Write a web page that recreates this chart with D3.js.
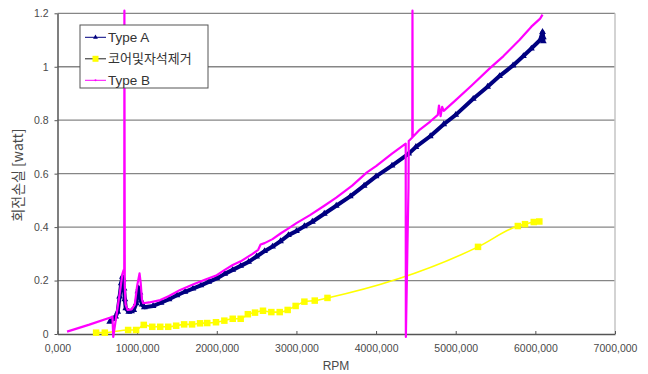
<!DOCTYPE html>
<html>
<head>
<meta charset="utf-8">
<script src="https://cdn.jsdelivr.net/npm/d3@7"></script>
<style>
  html, body { margin: 0; padding: 0; background: #fff; }
  svg { display: block; }
  text { font-family: "Liberation Sans", Arial, "Noto Sans CJK KR", sans-serif; }
  .kr { font-family: "Noto Sans CJK KR", "Liberation Sans", sans-serif; }
</style>
</head>
<body>
<svg id="chart" width="648" height="374"></svg>
<script>
// Rotation loss vs. speed — three measured series.
const seriesNames = ["Type A", "코어및자석제거", "Type B"];

// Type A (rpm, watt)
const typeARpm = [656000, 700000, 730000, 756000, 780000, 800000, 815000, 825000, 835000, 845000, 857000, 895000, 930000, 957000, 990000, 1010000, 1020000, 1035000, 1050000, 1062000, 1090000, 1200000, 1300000, 1400000, 1500000, 1600000, 1700000, 1800000, 1900000, 2000000, 2100000, 2200000, 2300000, 2400000, 2500000, 2600000, 2700000, 2800000, 2900000, 3000000, 3100000, 3200000, 3350000, 3500000, 3676000, 3850000, 4000000, 4200000, 4410000, 4500000, 4680000, 4850000, 5000000, 5220000, 5400000, 5550000, 5720000, 5850000, 5950000, 6060000, 6090000, 6100000, 6100000];
const typeAWatt = [0.046, 0.056, 0.065, 0.083, 0.14, 0.19, 0.214, 0.205, 0.17, 0.13, 0.096, 0.083, 0.085, 0.09, 0.115, 0.16, 0.171, 0.155, 0.125, 0.11, 0.1, 0.105, 0.117, 0.13, 0.145, 0.158, 0.17, 0.182, 0.195, 0.208, 0.225, 0.24, 0.255, 0.27, 0.29, 0.31, 0.327, 0.347, 0.37, 0.385, 0.403, 0.42, 0.45, 0.48, 0.515, 0.555, 0.59, 0.63, 0.675, 0.70, 0.74, 0.785, 0.82, 0.88, 0.925, 0.965, 1.005, 1.04, 1.068, 1.1, 1.13, 1.11, 1.095];

// 코어및자석제거 (rpm, watt)
const coreRpm = [485000, 594000, 887000, 987000, 1083000, 1190000, 1290000, 1390000, 1490000, 1590000, 1690000, 1790000, 1880000, 1990000, 2095000, 2200000, 2300000, 2390000, 2480000, 2580000, 2685000, 2790000, 2890000, 2990000, 3100000, 3230000, 3390000, 5280000, 5780000, 5870000, 5980000, 6050000];
const coreWatt = [0.005, 0.005, 0.015, 0.015, 0.034, 0.027, 0.027, 0.027, 0.031, 0.036, 0.036, 0.04, 0.041, 0.044, 0.05, 0.057, 0.057, 0.074, 0.08, 0.087, 0.082, 0.082, 0.09, 0.105, 0.121, 0.125, 0.135, 0.326, 0.404, 0.411, 0.419, 0.421];

// Type B (rpm, watt)
const typeBRpm = [120000, 400000, 665000, 690000, 700000, 760000, 790000, 815000, 830000, 838000, 840000, 845000, 855000, 880000, 930000, 970000, 1000000, 1030000, 1045000, 1060000, 1075000, 1150000, 1290000, 1400000, 1540000, 1700000, 1850000, 2000000, 2100000, 2200000, 2300000, 2450000, 2520000, 2550000, 2600000, 2700000, 2800000, 2920000, 3000000, 3170000, 3350000, 3500000, 3700000, 3885000, 4000000, 4200000, 4372000, 4374000, 4407000, 4410000, 4455000, 4457000, 4460000, 4550000, 4680000, 4775000, 4790000, 4810000, 4830000, 4850000, 5000000, 5200000, 5430000, 5600000, 5800000, 5950000, 6060000, 6090000];
const typeBWatt = [0.009, 0.035, 0.062, 0.065, -0.011, 0.11, 0.17, 0.225, 0.239, 0.235, 1.21, 0.18, 0.11, 0.09, 0.092, 0.11, 0.18, 0.227, 0.19, 0.13, 0.115, 0.118, 0.127, 0.142, 0.165, 0.185, 0.203, 0.22, 0.24, 0.258, 0.272, 0.3, 0.315, 0.335, 0.34, 0.355, 0.376, 0.399, 0.415, 0.445, 0.48, 0.51, 0.555, 0.605, 0.628, 0.675, 0.712, -0.011, 0.55, 0.722, 0.735, 1.21, 0.737, 0.765, 0.795, 0.82, 0.855, 0.815, 0.85, 0.835, 0.875, 0.93, 0.995, 1.04, 1.1, 1.15, 1.18, 1.195];

const xTickValues = [0, 1000000, 2000000, 3000000, 4000000, 5000000, 6000000, 7000000];
const xTickLabels = ["0,000", "1000,000", "2000,000", "3000,000", "4000,000", "5000,000", "6000,000", "7000,000"];
const yTickValues = [0, 0.2, 0.4, 0.6, 0.8, 1.0, 1.2];
const yTickLabels = ["0", "0.2", "0.4", "0.6", "0.8", "1", "1.2"];

const svg = d3.select("#chart");
const plotL = 57.5, plotR = 615, plotT = 13.3, plotB = 334;

const x = d3.scaleLinear().domain([0, 7000000]).range([plotL, plotR]);
const y = d3.scaleLinear().domain([0, 1.2]).range([plotB, plotT]);

// gridlines
svg.append("g").selectAll("line")
  .data(yTickValues.filter(v => v > 0))
  .join("line")
  .attr("x1", plotL).attr("x2", plotR)
  .attr("y1", d => y(d)).attr("y2", d => y(d))
  .attr("stroke", "#868686").attr("stroke-width", 1.3);

// right edge of plot area
svg.append("line")
  .attr("x1", plotR).attr("x2", plotR).attr("y1", plotT).attr("y2", plotB)
  .attr("stroke", "#c4c4c4").attr("stroke-width", 1.5);

// axes
const xAxis = d3.axisBottom(x).tickValues(xTickValues)
  .tickFormat((d, i) => xTickLabels[i]).tickSizeInner(-3).tickSizeOuter(0).tickPadding(11);
const gx = svg.append("g").attr("transform", `translate(0,${plotB})`).call(xAxis);
gx.select(".domain").attr("stroke", "#555").attr("stroke-width", 1.5);
gx.selectAll(".tick line").attr("stroke", "#555");
gx.selectAll("text").attr("fill", "#4a4a4a").style("font-size", "10.5px");

const yAxis = d3.axisLeft(y).tickValues(yTickValues)
  .tickFormat((d, i) => yTickLabels[i]).tickSizeInner(3).tickSizeOuter(0).tickPadding(6);
const gy = svg.append("g").attr("transform", `translate(${plotL},0)`).call(yAxis);
gy.select(".domain").attr("stroke", "#555").attr("stroke-width", 1.5);
gy.selectAll(".tick line").attr("stroke", "#555");
gy.selectAll("text").attr("fill", "#4a4a4a").style("font-size", "10.5px");

// axis titles
svg.append("text").attr("x", 336).attr("y", 370).attr("text-anchor", "middle")
  .attr("fill", "#4a4a4a").style("font-size", "12px").text("RPM");
svg.append("text").attr("class", "kr")
  .attr("transform", "translate(23,175) rotate(-90)").attr("text-anchor", "middle")
  .attr("fill", "#4a4a4a").style("font-size", "14px").text("회전손실 [watt]");

const zip = (xs, ys) => xs.map((v, i) => [v, ys[i]]);
const dataA = zip(typeARpm, typeAWatt);
const dataC = zip(coreRpm, coreWatt);
const dataB = zip(typeBRpm, typeBWatt);

const line = d3.line().x(d => x(d[0])).y(d => y(d[1]));
const smooth = d3.line().x(d => x(d[0])).y(d => y(d[1])).curve(d3.curveMonotoneX);

// 코어및자석제거
svg.append("path").datum(dataC).attr("d", smooth)
  .attr("fill", "none").attr("stroke", "#ffff00").attr("stroke-width", 1.6);
svg.append("g").selectAll("rect").data(dataC).join("rect")
  .attr("x", d => x(d[0]) - 3.25).attr("y", d => y(d[1]) - 3.25)
  .attr("width", 6.5).attr("height", 6.5).attr("fill", "#ffff00");

// Type A
svg.append("path").datum(dataA).attr("d", line)
  .attr("fill", "none").attr("stroke", "#000080").attr("stroke-width", 4)
  .attr("stroke-linejoin", "round");
const tri = d3.symbol().type(d3.symbolTriangle).size(20);
svg.append("g").selectAll("path").data(dataA).join("path")
  .attr("transform", d => `translate(${x(d[0])},${y(d[1])})`)
  .attr("d", tri).attr("fill", "#000080");

// Type B
svg.append("path").datum(dataB).attr("d", line)
  .attr("fill", "none").attr("stroke", "#ff00ff").attr("stroke-width", 2.2)
  .attr("stroke-linejoin", "round");

// legend
const lg = svg.append("g").attr("transform", "translate(80,25)");
lg.append("rect").attr("x", 0).attr("y", 0).attr("width", 128).attr("height", 63)
  .attr("fill", "#fff").attr("stroke", "#555").attr("stroke-width", 1);
const legendRows = [
  { name: seriesNames[0], color: "#000080", lineColor: "#000080", marker: "tri" },
  { name: seriesNames[1], color: "#ffff00", lineColor: "#222", marker: "sq" },
  { name: seriesNames[2], color: "#ff00ff", lineColor: "#ff00ff", marker: "dot" }
];
legendRows.forEach((r, i) => {
  const cy = 12.3 + i * 21.5;
  lg.append("line").attr("x1", 5).attr("x2", 26).attr("y1", cy).attr("y2", cy)
    .attr("stroke", r.lineColor).attr("stroke-width", 1);
  if (r.marker === "tri") {
    lg.append("path").attr("transform", `translate(15.5,${cy})`)
      .attr("d", d3.symbol().type(d3.symbolTriangle).size(10)).attr("fill", r.color);
  } else if (r.marker === "sq") {
    lg.append("rect").attr("x", 12.5).attr("y", cy - 3).attr("width", 6).attr("height", 6).attr("fill", r.color);
  } else {
    lg.append("circle").attr("cx", 15.5).attr("cy", cy).attr("r", 1).attr("fill", r.color);
  }
  lg.append("text").attr("class", i === 1 ? "kr" : null)
    .attr("x", 28).attr("y", cy + 4.5).attr("fill", "#333")
    .style("font-size", i === 1 ? "13px" : "13.5px").text(r.name);
});
</script>
</body>
</html>
